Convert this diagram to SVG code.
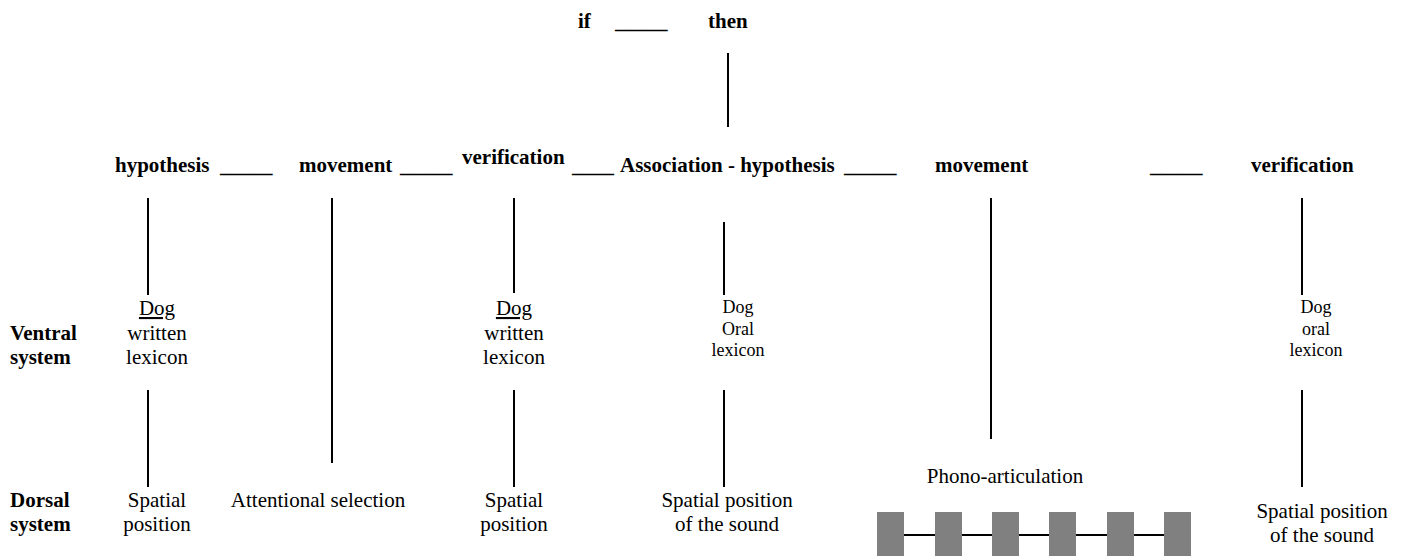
<svg xmlns="http://www.w3.org/2000/svg" width="1405" height="556" viewBox="0 0 1405 556">
  <style>
    text { font-family: "Liberation Serif", Tinos, "Times New Roman", Times, "DejaVu Serif", serif; fill: #000; }
    .b { font-size: 21px; font-weight: bold; }
    .r { font-size: 21px; }
    .s { font-size: 18px; }
    .c { text-anchor: middle; }
    .u { text-decoration: underline; }
    .link { stroke: #000; stroke-width: 2; fill: none; }
    .bar { fill: #808080; }
  </style>
  <rect width="1405" height="556" fill="#fff"/>

  <!-- connectors -->
  <g id="connectors" class="link">
    <line x1="728" y1="53" x2="728" y2="127"/>
    <line x1="148" y1="198" x2="148" y2="295"/>
    <line x1="148" y1="390" x2="148" y2="487"/>
    <line x1="332" y1="198" x2="332" y2="463"/>
    <line x1="514" y1="198" x2="514" y2="293"/>
    <line x1="514" y1="390" x2="514" y2="487"/>
    <line x1="724" y1="222" x2="724" y2="295"/>
    <line x1="724" y1="390" x2="724" y2="487"/>
    <line x1="991" y1="198" x2="991" y2="439"/>
    <line x1="1302" y1="198" x2="1302" y2="295"/>
    <line x1="1302" y1="390" x2="1302" y2="487"/>
  </g>

  <!-- top rule: if ___ then -->
  <g id="rule-top">
    <text class="b" x="578" y="28">if</text>
    <text class="b" x="615" y="28">_____</text>
    <text class="b" x="708" y="28">then</text>
  </g>

  <!-- processing sequence -->
  <g id="sequence">
    <text class="b" x="115" y="172">hypothesis</text>
    <text class="b" x="220" y="172">_____</text>
    <text class="b" x="299" y="172">movement</text>
    <text class="b" x="400" y="172">_____</text>
    <text class="b" x="462" y="164">verification</text>
    <text class="b" x="572" y="172">____</text>
    <text class="b" x="620" y="172">Association - hypothesis</text>
    <text class="b" x="844" y="172">_____</text>
    <text class="b" x="935" y="172">movement</text>
    <text class="b" x="1150" y="172">_____</text>
    <text class="b" x="1251" y="172">verification</text>
  </g>

  <!-- row labels -->
  <g id="ventral-label">
    <text class="b" x="10" y="340">Ventral</text>
    <text class="b" x="10" y="364">system</text>
  </g>
  <g id="dorsal-label">
    <text class="b" x="10" y="507">Dorsal</text>
    <text class="b" x="10" y="531">system</text>
  </g>

  <!-- ventral nodes -->
  <g id="ventral-1">
    <text class="r c u" x="157" y="315">Dog</text>
    <text class="r c" x="157" y="340">written</text>
    <text class="r c" x="157" y="364">lexicon</text>
  </g>
  <g id="ventral-3">
    <text class="r c u" x="514" y="315">Dog</text>
    <text class="r c" x="514" y="340">written</text>
    <text class="r c" x="514" y="364">lexicon</text>
  </g>
  <g id="ventral-4">
    <text class="s c" x="738" y="313">Dog</text>
    <text class="s c" x="738" y="335">Oral</text>
    <text class="s c" x="738" y="356">lexicon</text>
  </g>
  <g id="ventral-6">
    <text class="s c" x="1316" y="313">Dog</text>
    <text class="s c" x="1316" y="335">oral</text>
    <text class="s c" x="1316" y="356">lexicon</text>
  </g>

  <!-- dorsal nodes -->
  <g id="dorsal-1">
    <text class="r c" x="157" y="507">Spatial</text>
    <text class="r c" x="157" y="531">position</text>
  </g>
  <g id="dorsal-2">
    <text class="r c" x="318" y="507">Attentional selection</text>
  </g>
  <g id="dorsal-3">
    <text class="r c" x="514" y="507">Spatial</text>
    <text class="r c" x="514" y="531">position</text>
  </g>
  <g id="dorsal-4">
    <text class="r c" x="727" y="507">Spatial position</text>
    <text class="r c" x="727" y="531">of the sound</text>
  </g>
  <g id="dorsal-5">
    <text class="r c" x="1005" y="483">Phono-articulation</text>
    <line class="link" x1="904" y1="535" x2="1164" y2="535"/>
    <rect class="bar" x="877" y="512" width="27" height="50"/>
    <rect class="bar" x="935" y="512" width="27" height="50"/>
    <rect class="bar" x="992" y="512" width="27" height="50"/>
    <rect class="bar" x="1049" y="512" width="27" height="50"/>
    <rect class="bar" x="1107" y="512" width="27" height="50"/>
    <rect class="bar" x="1164" y="512" width="27" height="50"/>
  </g>
  <g id="dorsal-6">
    <text class="r c" x="1322" y="518">Spatial position</text>
    <text class="r c" x="1322" y="542">of the sound</text>
  </g>
</svg>
